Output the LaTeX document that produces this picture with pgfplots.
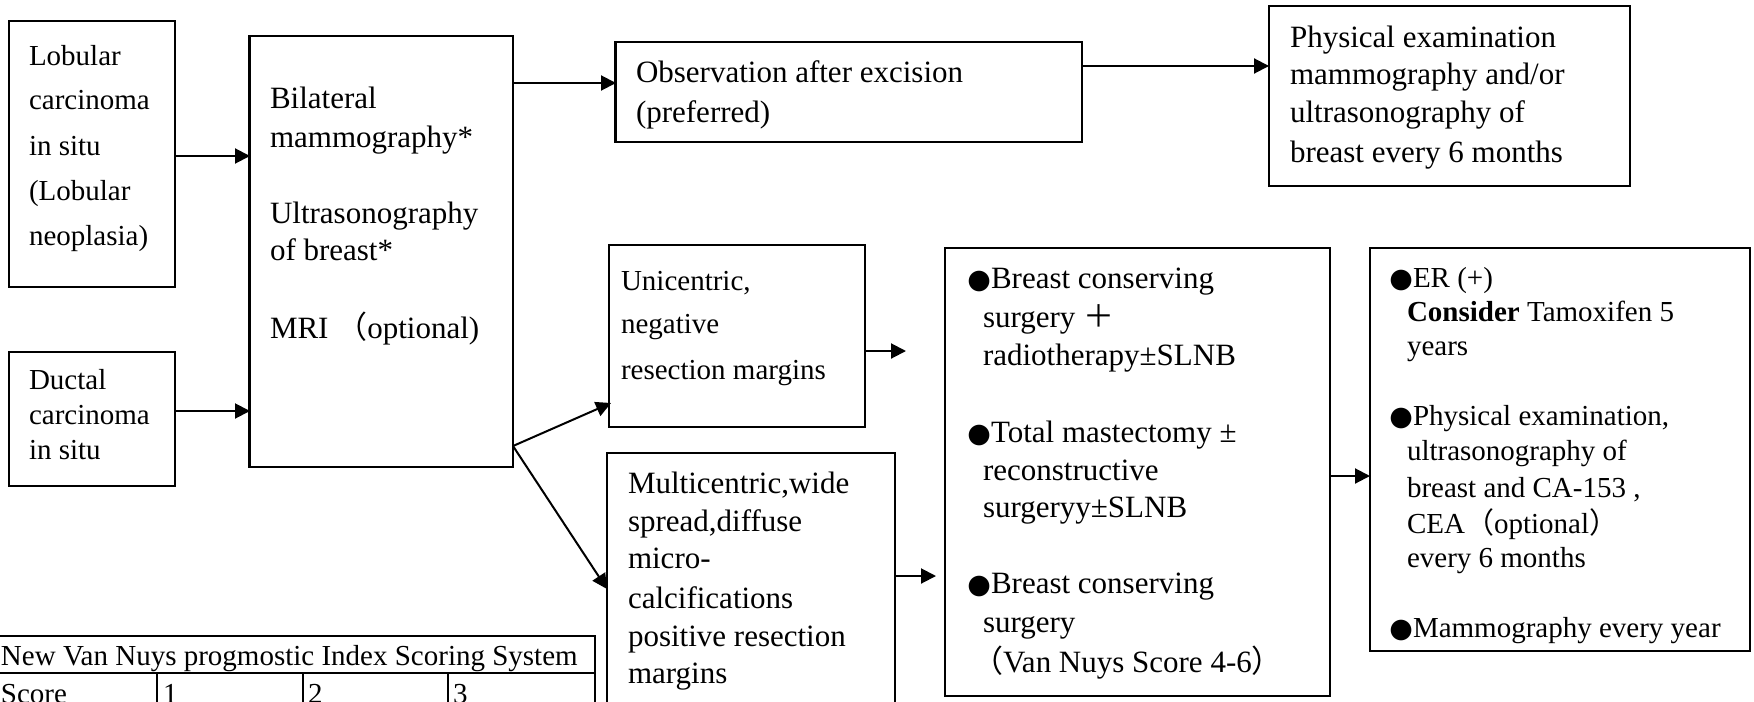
\documentclass[border=0pt]{standalone}
\usepackage{fontspec}
\setmainfont{Liberation Serif}
\newfontfamily\cjk{Noto Sans CJK SC}
\newfontfamily\dejavu{DejaVu Sans}
\usepackage{pgfplots}
\pgfplotsset{compat=1.18}
\usetikzlibrary{arrows.meta}
\newcommand{\fa}{\fontsize{14.5}{17}\selectfont}
\newcommand{\fb}{\fontsize{15.5}{18}\selectfont}
\newcommand{\bul}{{\dejavu\fontsize{13.5}{15}\selectfont ●}}
\tikzset{
  A/.style={anchor=base west, inner sep=0pt, outer sep=0pt, font=\fa},
  B/.style={anchor=base west, inner sep=0pt, outer sep=0pt, font=\fb},
  U/.style={anchor=base east, inner sep=0pt, outer sep=0pt},
}
\begin{document}
\begin{tikzpicture}
\begin{axis}[
  scale only axis, width=877pt, height=350.5pt,
  xmin=0, xmax=1754, ymin=0, ymax=701, y dir=reverse,
  axis lines=none, clip=false,
  box/.style={black, line width=1.3pt},
  arr/.style={black, line width=1pt, -{Triangle[length=7.5pt,width=7.5pt]}},
  tl/.style={black, line width=1pt},
]
% ---- boxes ----
\addplot[box] coordinates {(9,21) (175,21) (175,287) (9,287)} -- cycle;
\addplot[box] coordinates {(9,352) (175,352) (175,486) (9,486)} -- cycle;
\addplot[box] coordinates {(249.5,36) (513,36) (513,467) (249.5,467)} -- cycle;
\addplot[box] coordinates {(615.5,42) (1082,42) (1082,142) (615.5,142)} -- cycle;
\addplot[box] coordinates {(1269,6) (1630,6) (1630,186) (1269,186)} -- cycle;
\addplot[box] coordinates {(609,245) (865,245) (865,427) (609,427)} -- cycle;
\addplot[box] coordinates {(607,453) (895,453) (895,730) (607,730)} -- cycle;
\addplot[box] coordinates {(945,248) (1330,248) (1330,696) (945,696)} -- cycle;
\addplot[box] coordinates {(1370,248) (1750,248) (1750,651) (1370,651)} -- cycle;
% ---- table ----
\addplot[tl] coordinates {(0,636) (595,636) (595,730)};
\addplot[tl] coordinates {(0,673) (595,673)};
\addplot[tl] coordinates {(157,673) (157,730)};
\addplot[tl] coordinates {(303,673) (303,730)};
\addplot[tl] coordinates {(448,673) (448,730)};
% ---- arrows ----
\addplot[arr] coordinates {(175,156) (250,156)};
\addplot[arr] coordinates {(175,411) (250,411)};
\addplot[arr] coordinates {(513,83) (616,83)};
\addplot[arr] coordinates {(1082,66) (1269,66)};
\addplot[arr] coordinates {(513,446) (611,403)};
\addplot[arr] coordinates {(513,446) (607,589)};
\addplot[arr] coordinates {(865,351) (906,351)};
\addplot[arr] coordinates {(895,576) (936,576)};
\addplot[arr] coordinates {(1330,476) (1370,476)};
% ---- texts ----
\node[A] at (axis cs:29,65) {Lobular};
\node[A] at (axis cs:29,109) {carcinoma};
\node[A] at (axis cs:29,155) {in situ};
\node[A] at (axis cs:29,200) {(Lobular};
\node[A] at (axis cs:29,245) {neoplasia)};
\node[A] at (axis cs:29,389) {Ductal};
\node[A] at (axis cs:29,424) {carcinoma};
\node[A] at (axis cs:29,459) {in situ};
\node[B] at (axis cs:270,108) {Bilateral};
\node[B] at (axis cs:270,147) {mammography*};
\node[B] at (axis cs:270,223) {Ultrasonography};
\node[B] at (axis cs:270,260) {of breast*};
\node[B] at (axis cs:270,338) {MRI {\cjk （}optional)};
\node[B] at (axis cs:636,82) {Observation after excision};
\node[B] at (axis cs:636,122) {(preferred)};
\node[B] at (axis cs:1290,47) {Physical examination};
\node[B] at (axis cs:1290,84) {mammography and/or};
\node[B] at (axis cs:1290,122) {ultrasonography of};
\node[B] at (axis cs:1290,162) {breast every 6 months};
\node[A] at (axis cs:621,290) {Unicentric,};
\node[A] at (axis cs:621,333) {negative};
\node[A] at (axis cs:621,379) {resection margins};
\node[B] at (axis cs:628,493) {Multicentric,wide};
\node[B] at (axis cs:628,531) {spread,diffuse};
\node[B] at (axis cs:628,568) {micro-};
\node[B] at (axis cs:628,608) {calcifications};
\node[B] at (axis cs:628,646) {positive resection};
\node[B] at (axis cs:628,683) {margins};
% big box
\node[U] at (axis cs:991,288) {\bul};
\node[B] at (axis cs:991,288) {Breast conserving};
\node[B] at (axis cs:983,327) {surgery {\cjk ＋}};
\node[B] at (axis cs:983,365) {radiotherapy±SLNB};
\node[U] at (axis cs:991,442) {\bul};
\node[B] at (axis cs:991,442) {Total mastectomy ±};
\node[B] at (axis cs:983,480) {reconstructive};
\node[B] at (axis cs:983,517) {surgeryy±SLNB};
\node[U] at (axis cs:991,593) {\bul};
\node[B] at (axis cs:991,593) {Breast conserving};
\node[B] at (axis cs:983,632) {surgery};
\node[B] at (axis cs:972,672) {{\cjk （}Van Nuys Score 4-6{\cjk ）}};
% right box
\node[U] at (axis cs:1413,287) {\bul};
\node[A] at (axis cs:1413,287) {ER (+)};
\node[A] at (axis cs:1407,321) {\textbf{Consider} Tamoxifen 5};
\node[A] at (axis cs:1407,355) {years};
\node[U] at (axis cs:1413,425) {\bul};
\node[A] at (axis cs:1413,425) {Physical examination,};
\node[A] at (axis cs:1407,460) {ultrasonography of};
\node[A] at (axis cs:1407,497) {breast and CA-153 ,};
\node[A] at (axis cs:1407,533) {CEA{\cjk （}optional{\cjk ）}};
\node[A] at (axis cs:1407,567) {every 6 months};
\node[U] at (axis cs:1413,637) {\bul};
\node[A] at (axis cs:1413,637) {Mammography every year};
% table
\node[A] at (axis cs:1,665) {New Van Nuys progmostic Index Scoring System};
\node[A] at (axis cs:1,703) {Score};
\node[A] at (axis cs:163,703) {1};
\node[A] at (axis cs:308,703) {2};
\node[A] at (axis cs:453,703) {3};
\end{axis}
\pgfresetboundingbox
\useasboundingbox (0,0) rectangle (877pt,350.5pt);
\end{tikzpicture}
\end{document}
